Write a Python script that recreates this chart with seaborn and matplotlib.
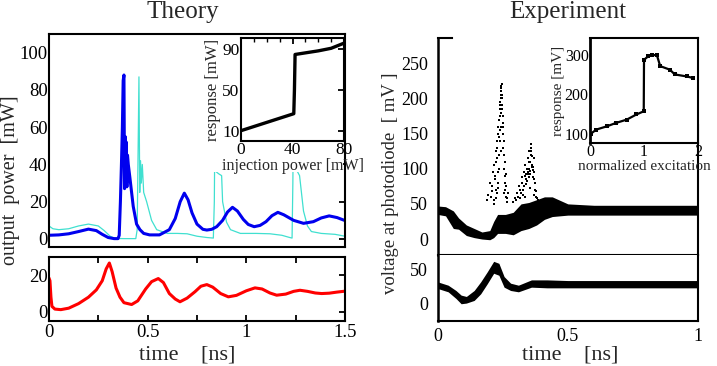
import matplotlib
matplotlib.use("Agg")
import matplotlib.pyplot as plt
import seaborn as sns
from matplotlib.patches import Rectangle
from matplotlib.ticker import MultipleLocator

# ---- Theory: output power of the two modes (mW) vs time (ns)
blue_t = [0.0, 0.05, 0.10, 0.15, 0.20, 0.24, 0.27, 0.30, 0.33, 0.350,
          0.356, 0.362, 0.368, 0.372, 0.376, 0.380, 0.383, 0.386, 0.389, 0.392,
          0.395, 0.398, 0.402, 0.41, 0.427, 0.444, 0.461, 0.48, 0.51, 0.56,
          0.61, 0.64, 0.665, 0.686, 0.705, 0.725, 0.75, 0.78, 0.80, 0.825,
          0.85, 0.88, 0.905, 0.93, 0.955, 0.985, 1.01, 1.04, 1.07, 1.10,
          1.13, 1.16, 1.19, 1.24, 1.29, 1.34, 1.38, 1.42, 1.46, 1.5]
blue_v = [2.0, 2.2, 2.8, 4.0, 5.3, 4.5, 2.5, 0.8, 0.2, 0.2,
          2, 20, 43, 60, 85, 88, 27, 55, 30, 52,
          28, 45, 40, 33, 17.5, 8, 5, 3, 2.2, 2.2,
          5, 11, 20, 24.6, 21, 14, 8, 5.2, 4.8, 5.2,
          6.6, 10, 14.5, 17, 15, 10.5, 7.8, 6.6, 7.3, 9.3,
          12.5, 14.3, 13, 10, 8.4, 9.3, 11.3, 12.4, 11.5, 9.9]

cyan_t = [0.0, 0.02, 0.05, 0.10, 0.15, 0.20, 0.25, 0.28, 0.31, 0.335,
          0.38, 0.44, 0.447, 0.452, 0.456, 0.460, 0.464, 0.468, 0.473, 0.48,
          0.495, 0.52, 0.546, 0.6, 0.65, 0.7, 0.75, 0.8, 0.833, 0.838,
          0.843, 0.848, 0.86, 0.875, 0.88, 0.90, 0.92, 0.97, 1.05, 1.12,
          1.18, 1.22, 1.232, 1.236, 1.241, 1.246, 1.26, 1.27, 1.29, 1.31,
          1.33, 1.38, 1.45, 1.5]
cyan_v = [7, 5.5, 5, 5.5, 7, 8, 7, 4.5, 1.5, 0.3,
          0.2, 0.2, 5, 50, 87, 25, 42, 30, 40, 25,
          20, 10, 5, 3, 3, 2.8, 1.5, 0.8, 0.5, 20,
          88, 36, 35, 34, 20, 9, 5, 3, 3, 2.8,
          2, 0.8, 0.5, 30, 88, 38, 36, 34, 15, 7,
          4, 3, 2.5, 1.5]

red_t = [0.0, 0.005, 0.01, 0.015, 0.03, 0.06, 0.10, 0.15, 0.20, 0.24,
         0.27, 0.29, 0.306, 0.32, 0.34, 0.36, 0.38, 0.419, 0.45, 0.49,
         0.52, 0.554, 0.58, 0.61, 0.64, 0.664, 0.70, 0.74, 0.77, 0.80,
         0.83, 0.87, 0.909, 0.95, 1.0, 1.044, 1.08, 1.12, 1.154, 1.2,
         1.24, 1.272, 1.31, 1.35, 1.382, 1.42, 1.46, 1.5]
red_v = [18.5, 17, 8, 3, 1.5, 1.2, 2, 4.5, 8, 12,
         17, 23.5, 26.7, 22, 13, 8, 5, 4, 6, 12.5,
         16.5, 18.2, 16, 10, 7, 5.5, 7.5, 11, 14, 14.9,
         13.5, 10, 8.2, 9, 11.5, 13.1, 12.5, 10.3, 9.1, 9.7,
         11.2, 11.8, 11.2, 10.3, 10, 10.2, 10.8, 11.3]

# theory inset: response vs injection power
inj_power = [0, 41, 41.5, 42, 60, 70, 80]
inj_resp = [10.5, 27, 50, 84.5, 88, 90.5, 95.5]

# ---- Experiment: photodiode voltage band (mV) vs time (ns)
top_t = [0, 0.03, 0.06, 0.08, 0.11, 0.14, 0.17, 0.20, 0.215, 0.23,
         0.26, 0.29, 0.32, 0.35, 0.38, 0.41, 0.44, 0.47, 0.50, 0.6,
         0.7, 0.8, 0.9, 1.0]
top_low = [35, 33, 15, 14, 5, 2, 0, -1, 2, 8,
           8, 6, 12, 15, 20, 28, 32, 33, 34, 34,
           34, 34, 34, 34]
top_high = [47, 46, 40, 30, 20, 15, 10, 12, 25, 35,
            35, 38, 50, 52, 56, 60, 60, 55, 50, 48,
            48, 48, 48, 48]

spike1_t = [0.205, 0.21, 0.215, 0.22, 0.222, 0.225, 0.228, 0.23, 0.232, 0.235,
            0.237, 0.24, 0.242, 0.244, 0.246, 0.248, 0.25, 0.252, 0.255, 0.258,
            0.26, 0.263, 0.238, 0.243, 0.247, 0.241, 0.236, 0.245, 0.249, 0.233,
            0.226, 0.218, 0.251, 0.256, 0.239, 0.244, 0.247, 0.242,
            0.19, 0.195, 0.2, 0.207, 0.212, 0.216, 0.219, 0.223, 0.227, 0.229,
            0.231, 0.234, 0.236, 0.239, 0.241, 0.243, 0.245, 0.248, 0.25, 0.253,
            0.257, 0.259, 0.262, 0.265, 0.268, 0.27, 0.224, 0.232, 0.254, 0.261]
spike1_v = [60, 75, 55, 90, 110, 70, 130, 95, 150, 120,
            170, 185, 200, 215, 205, 190, 175, 150, 120, 90,
            70, 60, 140, 160, 220, 195, 100, 180, 165, 80,
            65, 50, 130, 100, 155, 210, 185, 125,
            55, 62, 80, 68, 95, 105, 85, 125, 140, 115,
            160, 170, 145, 190, 175, 205, 218, 200, 160, 140,
            110, 80, 75, 58, 52, 65, 58, 72, 66, 92]
spike2_t = [0.30, 0.31, 0.315, 0.32, 0.325, 0.33, 0.335, 0.34, 0.343, 0.346,
            0.35, 0.352, 0.355, 0.358, 0.36, 0.362, 0.365, 0.368, 0.37, 0.373,
            0.376, 0.38, 0.338, 0.348, 0.357, 0.362, 0.328, 0.344, 0.354, 0.366,
            0.29, 0.295, 0.305, 0.312, 0.318, 0.322, 0.327, 0.332, 0.337, 0.341,
            0.345, 0.349, 0.351, 0.356, 0.359, 0.363, 0.367, 0.371, 0.374, 0.378,
            0.383, 0.386, 0.334, 0.353, 0.369]
spike2_v = [55, 60, 70, 65, 80, 75, 90, 85, 100, 95,
            88, 110, 92, 120, 130, 105, 98, 115, 85, 70,
            60, 52, 78, 92, 125, 102, 62, 83, 97, 88,
            52, 58, 65, 75, 58, 88, 70, 95, 105, 92,
            115, 100, 125, 110, 135, 118, 102, 95, 80, 68,
            58, 55, 60, 72, 62]

bot_t = [0, 0.04, 0.07, 0.09, 0.11, 0.14, 0.165, 0.19, 0.215, 0.235,
         0.255, 0.28, 0.31, 0.36, 0.42, 0.5, 0.6, 0.7, 0.8, 0.9, 1.0]
bot_low = [22, 17, 7, -1, 0, 4, 14, 29, 45, 42,
           24, 19, 17, 24, 23, 23, 23, 23, 23, 23, 23]
bot_high = [32, 27, 19, 12, 10, 19, 32, 47, 63, 60,
            40, 30, 27, 35, 35, 34, 34, 34, 34, 34, 34]

# experiment inset: response vs normalized excitation
exc = [0.01, 0.12, 0.31, 0.49, 0.68, 0.86, 0.995, 1.0, 1.08, 1.14,
       1.24, 1.30, 1.48, 1.57, 1.79, 1.91]
exc_resp = [100, 111, 119, 128, 136, 149, 157, 287, 296, 300,
            298, 271, 262, 250, 245, 241]

sns.set_style("white")
plt.rcParams['font.family'] = ['Liberation Serif', 'DejaVu Serif']
plt.rcParams.update({
    'xtick.direction': 'in', 'ytick.direction': 'in',
    'axes.linewidth': 1.5, 'axes.edgecolor': 'black',
    'xtick.color': 'black', 'ytick.color': 'black',
    'xtick.major.size': 4, 'ytick.major.size': 4,
    'xtick.major.width': 1.3, 'ytick.major.width': 1.3,
})

fig = plt.figure(figsize=(7.17, 3.66), dpi=100)

# ---------- Theory
ax1 = fig.add_axes([0.0683, 0.3251, 0.4128, 0.582])
sns.lineplot(x=cyan_t, y=cyan_v, ax=ax1, color='#40e0d0', lw=0.9,
             sort=False, estimator=None)
sns.lineplot(x=blue_t, y=blue_v, ax=ax1, color='#0000ee', lw=2.2,
             sort=False, estimator=None)
ax1.set_xlim(0, 1.5)
ax1.set_ylim(-4.3, 110)
ax1.xaxis.set_major_locator(MultipleLocator(0.25))
ax1.set_xticklabels([])
ax1.set_yticks([0, 20, 40, 60, 80, 100])
ax1.tick_params(axis='y', labelsize=13.5, pad=1, right=True)

ax2 = fig.add_axes([0.0683, 0.123, 0.4128, 0.1749])
sns.lineplot(x=red_t, y=red_v, ax=ax2, color='red', lw=2.2,
             sort=False, estimator=None)
ax2.set_xlim(0, 1.5)
ax2.set_ylim(-5, 30)
ax2.set_yticks([0, 20])
ax2.set_xticks([0, 0.5, 1, 1.5])
ax2.set_xticklabels(['0', '0.5', '1', '1.5'])
ax2.xaxis.set_minor_locator(MultipleLocator(0.25))
ax2.tick_params(axis='x', which='both', top=True, bottom=True,
                labelsize=13.5, pad=2)
ax2.tick_params(axis='x', which='minor', length=4, width=1.3)
ax2.tick_params(axis='y', labelsize=13.5, pad=1, right=True)

# white area behind the inset and its labels
fig.add_artist(Rectangle((0.283, 0.531), 0.195, 0.365, transform=fig.transFigure,
                         facecolor='white', edgecolor='none', zorder=1))

ins1 = fig.add_axes([0.3361, 0.6148, 0.1437, 0.2814])
ins1.set_zorder(3)
sns.lineplot(x=inj_power, y=inj_resp, ax=ins1, color='black', lw=2.4,
             sort=False, estimator=None)
ins1.set_xlim(0, 80)
ins1.set_ylim(0.5, 100.5)
ins1.set_xticks([0, 40, 80])
ins1.xaxis.set_minor_locator(MultipleLocator(10))
ins1.set_yticks([10, 50, 90])
ins1.tick_params(axis='both', which='both', top=True, right=True,
                 labelsize=12.5, pad=1)
ins1.tick_params(axis='x', which='minor', length=3, width=1)
ins1.set_xlabel('injection power [mW]', fontsize=11.5, labelpad=0)
ins1.set_ylabel('response [mW]', fontsize=12, labelpad=1)

fig.text(0.255, 0.967, 'Theory', fontsize=18, ha='center', va='center')
fig.text(0.014, 0.508, 'output  power  [mW]', fontsize=14.5, rotation=90,
         ha='center', va='center')
fig.text(0.261, 0.03, 'time    [ns]', fontsize=16, ha='center', va='center')

# ---------- Experiment
ax3 = fig.add_axes([0.6105, 0.3041, 0.363, 0.592])
ax3.fill_between(top_t, top_low, top_high, color='black', lw=0)
sns.scatterplot(x=spike1_t, y=spike1_v, ax=ax3, color='black', s=3,
                marker='s', linewidth=0)
sns.scatterplot(x=spike2_t, y=spike2_v, ax=ax3, color='black', s=3,
                marker='s', linewidth=0)
ax3.set_xlim(0, 1)
ax3.set_ylim(-22.3, 286)
ax3.set_xticks([])
ax3.set_yticks([0, 50, 100, 150, 200, 250])
ax3.tick_params(axis='y', labelsize=13, pad=7, length=6, width=1)
ax3.spines['top'].set_bounds(0, 0.055)
ax3.spines['right'].set_bounds(-22.3, 162)
ax3.spines['left'].set_linewidth(1.8)

ax4 = fig.add_axes([0.6105, 0.123, 0.363, 0.1811])
ax4.fill_between(bot_t, bot_low, bot_high, color='black', lw=0)
ax4.set_xlim(0, 1)
ax4.set_ylim(-27, 73)
ax4.set_yticks([0, 50])
ax4.set_xticks([0, 0.5, 1])
ax4.set_xticklabels(['0', '0.5', '1'])
ax4.tick_params(axis='y', labelsize=13, pad=7, length=6, width=1)
ax4.tick_params(axis='x', labelsize=13, pad=5, length=7, width=2)
ax4.spines['top'].set_visible(False)
ax4.spines['left'].set_linewidth(1.8)

ins2 = fig.add_axes([0.8229, 0.6093, 0.1506, 0.2869])
sns.lineplot(x=exc, y=exc_resp, ax=ins2, color='black', lw=1.6,
             marker='s', markersize=3, markeredgewidth=0,
             sort=False, estimator=None)
ins2.set_xlim(0, 2)
ins2.set_ylim(77, 342)
ins2.set_xticks([0, 1, 2])
ins2.xaxis.set_minor_locator(MultipleLocator(0.25))
ins2.set_yticks([100, 200, 300])
ins2.tick_params(axis='both', labelsize=11.5, pad=1, length=3, width=1)
ins2.tick_params(axis='x', which='minor', length=2, width=0.8)
ins2.spines['left'].set_linewidth(2)
ins2.set_xlabel('normalized excitation', fontsize=11, labelpad=0)
ins2.set_ylabel('response [mV]', fontsize=11, labelpad=0)

fig.text(0.792, 0.967, 'Experiment', fontsize=18, ha='center', va='center')
fig.text(0.545, 0.5, 'voltage at photodiode  [ mV ]', fontsize=13.5,
         rotation=90, ha='center', va='center')
fig.text(0.795, 0.03, 'time    [ns]', fontsize=16, ha='center', va='center')

fig.savefig('out.png', dpi=100)
